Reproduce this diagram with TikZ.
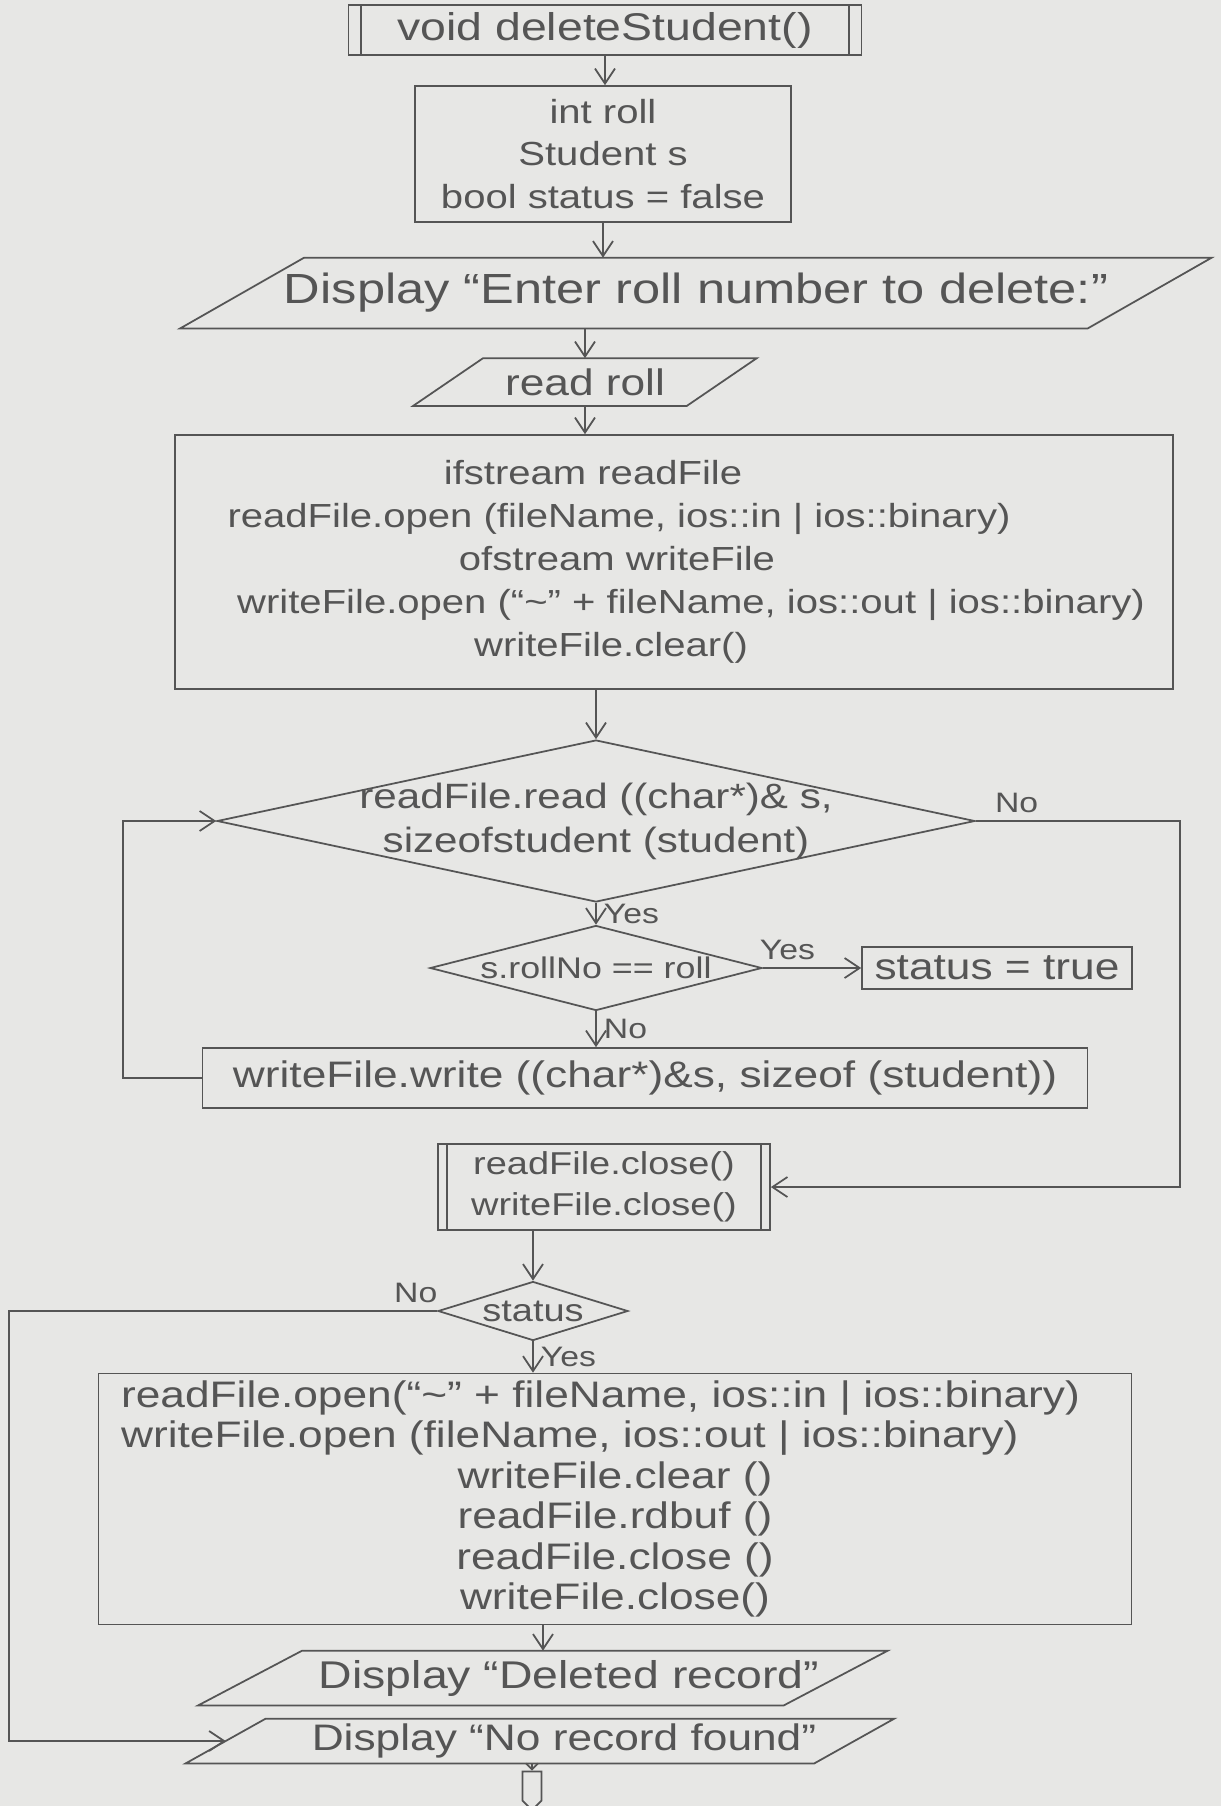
\documentclass[tikz,border=0pt]{standalone}
\usepackage{fontspec}
\setmainfont[FakeStretch=1.2]{Liberation Sans}
\usetikzlibrary{positioning,arrows.meta,shapes.geometric,shapes.symbols}
\definecolor{paper}{RGB}{231,231,229}
\definecolor{pencil}{RGB}{85,85,85}
% outline of an input/output box round a plain node
\newcommand{\slantbox}[2]{\draw ([xshift=#2]#1.north west) -- ([xshift=#2]#1.north east)
  -- ([xshift=-#2]#1.south east) -- ([xshift=-#2]#1.south west) -- cycle;}

\begin{document}
\begin{tikzpicture}[x=0.02cm,y=-0.02cm,color=pencil,line width=1pt,
  >={Straight Barb[length=3mm,width=4mm]},
  font=\fontsize{20}{25}\selectfont,
  box/.style={draw,align=center,inner sep=2pt},
  io/.style={align=center,inner sep=0pt},
  decision/.style={diamond,draw,inner sep=0pt},
  flag/.style={font=\fontsize{16}{19}\selectfont,inner sep=4pt}]
\fill[paper] (0,0) rectangle (1221,1806);
\useasboundingbox (0,0) rectangle (1221,1806);

% start of the routine
\node[box,minimum width=10.26cm,minimum height=1cm,font=\fontsize{22}{26}\selectfont] (fn) at (605,30) {void deleteStudent()};
\draw ([xshift=.26cm]fn.north west) -- ([xshift=.26cm]fn.south west)
      ([xshift=-.26cm]fn.north east) -- ([xshift=-.26cm]fn.south east);
\node[box,minimum width=7.52cm,minimum height=2.72cm,font=\fontsize{19}{24}\selectfont] (decl) at (603,154) {int roll\\Student s\\bool status = false};
\node[io,minimum width=18.12cm,minimum height=1.38cm,font=\fontsize{24}{28}\selectfont] (prompt) at (696,293) {Display ``Enter roll number to delete:''};
\slantbox{prompt}{1.24cm}
\node[io,minimum width=5.44cm,minimum height=.92cm,font=\fontsize{21}{25}\selectfont] (readroll) at (585,382) {read roll};
\slantbox{readroll}{.7cm}
\node[box,minimum width=19.96cm,minimum height=5.08cm,font=\fontsize{19}{24.5}\selectfont] (openfiles) at (674,562) {%
  ifstream readFile\kern3.24cm\null\\
  readFile.open (fileName, ios::in | ios::binary)\kern2.2cm\null\\
  ofstream writeFile\kern2.28cm\null\\
  \null\kern.68cm writeFile.open (``\textasciitilde'' + fileName, ios::out | ios::binary)\\
  writeFile.clear()\kern2.52cm\null};

% copy loop
\node[decision,minimum width=15.16cm,minimum height=3.24cm,
  label={[align=center,font=\fontsize{20}{25}\selectfont]center:{readFile.read ((char*)\& s,\\sizeofstudent (student)}}] (readloop) at (596,821) {};
\node[decision,minimum width=6.64cm,minimum height=1.7cm,label={[font=\fontsize{17}{21}\selectfont]center:{s.rollNo == roll}}] (match) at (596,968) {};
\node[box,minimum width=5.4cm,minimum height=.84cm,font=\fontsize{21}{25}\selectfont] (found) at (997,968) {status = true};
\node[box,minimum width=17.7cm,minimum height=1.2cm,font=\fontsize{21}{25}\selectfont] (copyrec) at (645,1078) {writeFile.write ((char*)\&s, sizeof (student))};
\node[box,minimum width=6.64cm,minimum height=1.72cm,font=\fontsize{18}{23}\selectfont] (closefiles) at (604,1187) {readFile.close()\\writeFile.close()};
\draw ([xshift=.2cm]closefiles.north west) -- ([xshift=.2cm]closefiles.south west)
      ([xshift=-.2cm]closefiles.north east) -- ([xshift=-.2cm]closefiles.south east);

% result
\node[decision,minimum width=3.8cm,minimum height=1.18cm,label={[font=\fontsize{18}{22}\selectfont]center:status}] (status) at (533,1311) {};
\node[box,minimum width=20.66cm,minimum height=5.02cm,font=\fontsize{21}{23}\selectfont] (replace) at (615,1499) {%
  \makebox[19.76cm][l]{readFile.open(``\textasciitilde'' + fileName, ios::in | ios::binary)}\\
  \makebox[19.76cm][l]{writeFile.open (fileName, ios::out | ios::binary)}\\
  writeFile.clear ()\\
  readFile.rdbuf ()\\
  readFile.close ()\\
  writeFile.close()};
\node[io,minimum width=11.68cm,minimum height=1.06cm,font=\fontsize{22}{26}\selectfont] (deleted) at (543,1678) {\hspace*{1.04cm}Display ``Deleted record''};
\slantbox{deleted}{1.04cm}
\node[io,minimum width=12.54cm,minimum height=.86cm,font=\fontsize{21}{25}\selectfont] (notfound) at (540,1741) {\hspace*{.96cm}Display ``No record found''};
\slantbox{notfound}{.8cm}
\node[signal,signal to=south,draw,minimum width=.38cm,minimum height=.58cm,inner sep=0pt] (offpage) at (532,1786) {};

% connectors
\draw[->] (fn.south) -- (fn.south |- decl.north);
\draw[->] (decl.south) -- (decl.south |- prompt.north);
\draw[->] (readroll.north |- prompt.south) -- (readroll.north);
\draw[->] (readroll.south) -- (readroll.south |- openfiles.north);
\draw[->] (readloop.north |- openfiles.south) -- (readloop.north);
\draw[->] (readloop.south) -- node[flag,right] (yes1) {Yes} (match.north);
\draw[->] (match.east) -- node[flag,above,pos=.25] (yes2) {Yes} (found.west);
\draw[->] (match.south) -- node[flag,right] (no1) {No} (match.south |- copyrec.north);
\draw[->] (copyrec.west) -- ++(-79,0) |- (readloop.west);
\draw[->] (readloop.east) -- node[flag,above,pos=.2] (no2) {No} ++(204,0) |- (closefiles.east);
\draw[->] (status.north |- closefiles.south) -- (status.north);
\draw[->] (status.south) -- node[flag,right] (yes3) {Yes} (status.south |- replace.north);
\draw[->] (status.west) -- node[flag,above,pos=.05] (no3) {No} ++(-428,0) |- (notfound.west);
\draw[->] (deleted.north |- replace.south) -- (deleted.north);
\draw[-{Straight Barb[length=1.2mm,width=2.4mm]}] (offpage.north |- notfound.south) -- (offpage.north);
\end{tikzpicture}
\end{document}
